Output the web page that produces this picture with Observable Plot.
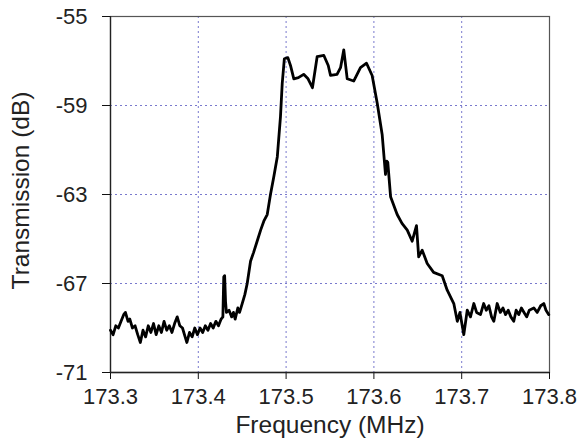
<!DOCTYPE html>
<html>
<head>
<meta charset="utf-8">
<script src="https://cdn.jsdelivr.net/npm/d3@7"></script>
<script src="https://cdn.jsdelivr.net/npm/@observablehq/plot@0.6"></script>
<style>
  body { margin: 0; background: #fff; }
  #chart { width: 579px; height: 438px; }
</style>
</head>
<body>
<div id="chart"></div>
<script>
const freq = [
  173.300,173.303,173.306,173.309,173.312,173.315,173.317,173.320,173.322,173.325,
  173.328,173.331,173.334,173.337,173.340,173.343,173.346,173.349,173.352,173.355,
  173.358,173.361,173.364,173.367,173.370,173.373,173.376,173.379,173.382,173.385,
  173.387,173.390,173.393,173.396,173.399,173.402,173.405,173.408,173.411,173.414,
  173.417,173.420,173.423,173.426,173.428,173.429,173.430,173.431,173.432,173.435,
  173.438,173.440,173.442,173.445,173.447,173.450,173.453,173.4557,173.4595,173.463,
  173.467,173.471,173.4746,173.4785,173.4822,173.486,173.490,173.4936,173.4956,173.498,
  173.502,173.505,173.5088,173.514,173.520,173.525,173.530,173.5354,173.543,173.548,
  173.5506,173.558,173.562,173.5657,173.5696,173.577,173.5847,173.5916,173.598,173.6038,
  173.6094,173.6132,173.6145,173.6158,173.619,173.6265,173.632,173.638,173.6436,173.6485,
  173.651,173.655,173.6607,173.668,173.6778,173.6835,173.691,173.695,173.698,173.7024,
  173.7063,173.710,173.7138,173.717,173.7214,173.725,173.728,173.731,173.734,173.7366,
  173.7404,173.744,173.747,173.750,173.753,173.756,173.7593,173.762,173.765,173.768,
  173.771,173.774,173.777,173.7821,173.786,173.790,173.7935,173.796,173.7992
];
const transmission = [
  -69.1,-69.3,-68.9,-69.0,-68.7,-68.4,-68.3,-68.7,-68.6,-69.0,
  -68.9,-69.3,-69.65,-69.1,-69.4,-68.9,-69.2,-68.8,-69.3,-68.9,
  -69.2,-68.7,-69.1,-68.9,-69.2,-68.8,-68.5,-68.9,-69.0,-69.4,
  -69.65,-69.2,-69.4,-69.0,-69.3,-69.0,-69.2,-68.9,-69.1,-68.8,
  -69.0,-68.7,-68.9,-68.6,-68.5,-66.7,-66.65,-67.8,-68.3,-68.2,
  -68.5,-68.3,-68.6,-68.1,-68.3,-67.9,-67.5,-67.0,-66.0,-65.6,
  -65.1,-64.6,-64.2,-63.9,-63.0,-62.2,-61.3,-59.5,-58.0,-56.9,
  -56.85,-57.2,-57.8,-57.75,-57.6,-57.8,-58.2,-56.8,-56.75,-57.2,
  -57.65,-57.6,-57.3,-56.5,-57.8,-57.9,-57.3,-57.1,-57.65,-58.9,
  -60.3,-62.1,-61.5,-61.55,-63.1,-63.9,-64.3,-64.6,-65.1,-64.4,
  -65.8,-65.5,-66.1,-66.5,-66.65,-67.3,-67.9,-68.7,-68.3,-69.3,
  -68.2,-68.5,-67.9,-68.3,-68.4,-67.9,-68.2,-68.0,-68.5,-68.7,
  -67.9,-68.3,-68.1,-68.4,-68.2,-68.5,-68.7,-68.2,-68.4,-68.1,
  -68.3,-68.5,-68.2,-68.1,-68.3,-68.0,-67.9,-68.2,-68.4
];
const xTicks = [173.3, 173.4, 173.5, 173.6, 173.7, 173.8];
const yTicks = [-71, -67, -63, -59, -55];
const xLabel = "Frequency (MHz)";
const yLabel = "Transmission (dB)";

const data = freq.map((f, i) => ({f, t: transmission[i]}));
const font = "'Liberation Sans', Arial, sans-serif";

const chart = Plot.plot({
  width: 579,
  height: 438,
  marginLeft: 110,
  marginRight: 30,
  marginTop: 16,
  marginBottom: 66,
  style: {fontFamily: font, fontSize: "22px", color: "#111", background: "#fff"},
  x: {domain: [173.3, 173.8], label: null},
  y: {domain: [-71, -55], label: null},
  marks: [
    Plot.gridX(xTicks, {stroke: "#6a6ac8", strokeOpacity: 0.9, strokeDasharray: "2,3"}),
    Plot.gridY(yTicks, {stroke: "#6a6ac8", strokeOpacity: 0.9, strokeDasharray: "2,3"}),
    Plot.frame({stroke: "#555", strokeWidth: 1.2}),
    Plot.axisX(xTicks, {tickSize: 7, tickPadding: 9, label: null, tickFormat: d => d.toFixed(1), fontSize: 22, fill: "#222"}),
    Plot.axisY(yTicks, {tickSize: 8, tickPadding: 15, label: null, tickFormat: d => String(d), fontSize: 22, fill: "#222"}),
    Plot.ruleX([173.3], {stroke: "#222", strokeWidth: 1.3}),
    Plot.ruleY([-71], {stroke: "#222", strokeWidth: 1.3}),
    Plot.line(data, {x: "f", y: "t", stroke: "#000", strokeWidth: 2.8, strokeLinejoin: "round"}),
    Plot.text([xLabel], {frameAnchor: "bottom", lineAnchor: "middle", textAnchor: "middle", dy: 53, fontSize: 24.5, fill: "#222"}),
    Plot.text([yLabel], {frameAnchor: "left", rotate: -90, lineAnchor: "middle", textAnchor: "middle", dx: -89, dy: -4, fontSize: 24.5, fill: "#222"})
  ]
});
document.getElementById("chart").appendChild(chart);
</script>
</body>
</html>
